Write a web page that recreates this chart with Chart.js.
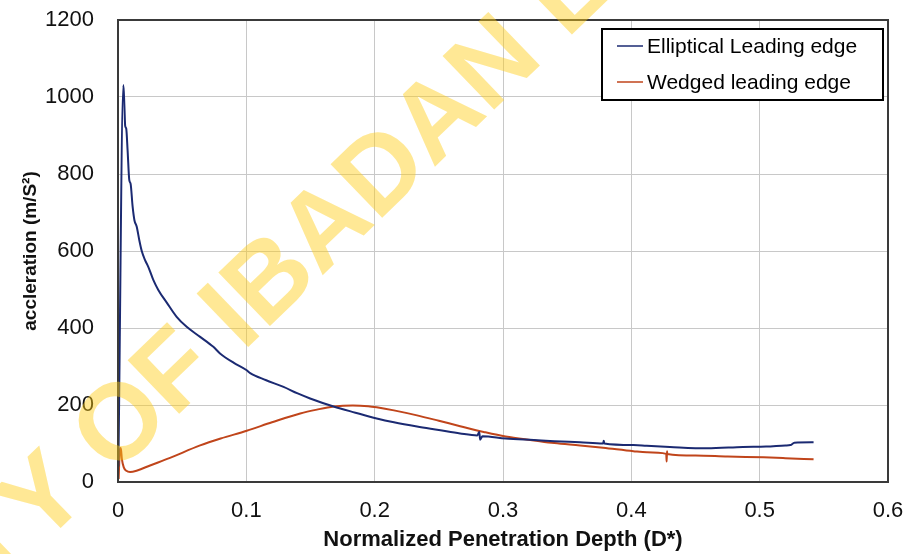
<!DOCTYPE html>
<html>
<head>
<meta charset="utf-8">
<title>Acceleration vs normalized penetration depth</title>
<script src="https://cdn.jsdelivr.net/npm/chart.js@4.4.1/dist/chart.umd.min.js"></script>
<style>
  html, body { margin: 0; padding: 0; background: #fff; }
  #wrap { width: 922px; height: 554px; }
</style>
</head>
<body>
<div id="wrap"><canvas id="accChart" width="922" height="554"></canvas></div>
<script>
/* Penetration test: acceleration of the two leading-edge shapes */
var xTickValues = [0, 0.1, 0.2, 0.3, 0.4, 0.5, 0.6];
var yTickValues = [0, 200, 400, 600, 800, 1000, 1200];

var seriesNames = ['Elliptical Leading edge', 'Wedged leading edge'];

var ellipticalX = [0.0003, 0.0042, 0.0050, 0.0056, 0.0064, 0.0075, 0.0088, 0.0098, 0.0114, 0.0128,
  0.0146, 0.0166, 0.0185, 0.0210, 0.0236, 0.0275, 0.0314, 0.038, 0.0457, 0.0535,
  0.064, 0.0743, 0.0795, 0.09, 0.1, 0.103, 0.115, 0.129, 0.14, 0.1497,
  0.168, 0.185, 0.2016, 0.215, 0.233, 0.25, 0.2666, 0.28, 0.2815, 0.2822,
  0.284, 0.302, 0.324, 0.34, 0.36, 0.378, 0.3785, 0.379, 0.4016, 0.412,
  0.43, 0.459, 0.487, 0.505, 0.52, 0.524, 0.527, 0.542];
var ellipticalY = [40, 1031, 975, 925, 918, 860, 784, 775, 715, 680,
  663, 628, 600, 577, 559, 525, 499, 466, 429, 403,
  377, 351, 334, 310, 291, 283, 265, 247, 230, 217,
  196, 180, 165, 155, 144, 135, 126, 121, 130, 110,
  119, 113, 109, 106, 103, 100, 107, 100, 96, 94,
  91, 87.5, 91, 92, 95, 96, 102, 103];

var wedgedX = [0.0005, 0.0015, 0.0022, 0.003, 0.0045, 0.0065, 0.0094, 0.015, 0.025, 0.04,
  0.064, 0.08, 0.1003, 0.12, 0.142, 0.155, 0.168, 0.183, 0.195, 0.2016,
  0.215, 0.233, 0.25, 0.2666, 0.285, 0.302, 0.324, 0.34, 0.36, 0.378,
  0.4016, 0.412, 0.4272, 0.4275, 0.4278, 0.428, 0.45, 0.475, 0.503, 0.52, 0.542];
var wedgedY = [8, 85, 88, 60, 38, 29, 26, 30, 43, 62,
  95, 113, 133, 155, 178, 188, 196, 199, 197, 194,
  186, 173, 159, 145, 130, 118, 108, 101, 95, 89,
  80, 77, 73, 53, 80, 73, 69, 66, 64, 62, 59];

var seriesColors = ['#1b2a72', '#c0451b'];

function toPoints(xs, ys) {
  return xs.map(function (x, i) { return { x: x, y: ys[i] }; });
}

var FONT = '"Liberation Sans", Arial, Helvetica, sans-serif';

// white box with line samples, top right of the plot
var legendPlugin = {
  id: 'boxLegend',
  afterDraw: function (chart) {
    var ctx = chart.ctx;
    var left = 602, top = 29, right = 883, bottom = 100;
    ctx.save();
    ctx.fillStyle = '#fff';
    ctx.fillRect(left, top, right - left, bottom - top);
    ctx.strokeStyle = '#000';
    ctx.lineWidth = 2;
    ctx.strokeRect(left, top, right - left, bottom - top);
    ctx.font = '21px ' + FONT;
    ctx.textBaseline = 'middle';
    ctx.fillStyle = '#000';
    chart.data.datasets.forEach(function (ds, i) {
      var y = 46 + i * 36;
      ctx.strokeStyle = ds.borderColor;
      ctx.lineWidth = 1.5;
      ctx.beginPath();
      ctx.moveTo(617, y);
      ctx.lineTo(643, y);
      ctx.stroke();
      ctx.fillText(ds.label, 647, y + 1);
    });
    ctx.restore();
  }
};

// frame round the plotting area
var framePlugin = {
  id: 'plotFrame',
  afterDatasetsDraw: function (chart) {
    var a = chart.chartArea, ctx = chart.ctx;
    ctx.save();
    ctx.strokeStyle = '#3a3a3a';
    ctx.lineWidth = 2;
    ctx.strokeRect(a.left, a.top, a.right - a.left, a.bottom - a.top);
    ctx.restore();
  }
};

// library stamp laid diagonally over the whole figure
var stampPlugin = {
  id: 'stamp',
  afterDraw: function (chart) {
    var ctx = chart.ctx;
    var text = 'UNIVERSITY OF IBADAN LIBRARY';
    var size = 108;
    var angle = -44 * Math.PI / 180;
    ctx.save();
    ctx.font = 'bold ' + size + 'px ' + FONT;
    var lead = ctx.measureText('UNIVERSITY ').width + ctx.measureText('O').width / 2;
    var cx = 117, cy = 420;
    ctx.translate(cx - lead * Math.cos(angle), cy - lead * Math.sin(angle));
    ctx.rotate(angle);
    ctx.textBaseline = 'alphabetic';
    ctx.fillStyle = 'rgba(255, 205, 20, 0.45)';
    ctx.fillText(text, 0, size * 0.716 / 2);
    ctx.restore();
  }
};

new Chart(document.getElementById('accChart'), {
  type: 'scatter',
  data: {
    datasets: [
      {
        label: seriesNames[0],
        data: toPoints(ellipticalX, ellipticalY),
        borderColor: seriesColors[0],
        backgroundColor: seriesColors[0],
        showLine: true,
        borderWidth: 2,
        pointRadius: 0,
        cubicInterpolationMode: 'monotone'
      },
      {
        label: seriesNames[1],
        data: toPoints(wedgedX, wedgedY),
        borderColor: seriesColors[1],
        backgroundColor: seriesColors[1],
        showLine: true,
        borderWidth: 2,
        pointRadius: 0,
        cubicInterpolationMode: 'monotone'
      }
    ]
  },
  options: {
    responsive: false,
    animation: false,
    layout: { padding: { left: 0, top: 20, right: 34, bottom: 0 } },
    plugins: {
      legend: { display: false },
      tooltip: { enabled: false }
    },
    scales: {
      x: {
        type: 'linear',
        min: 0,
        max: 0.6,
        afterBuildTicks: function (s) { s.ticks = xTickValues.map(function (v) { return { value: v }; }); },
        afterFit: function (s) { s.height = 72; },
        grid: { color: '#c8c8c8', lineWidth: 1, drawTicks: false },
        border: { display: false },
        ticks: {
          padding: 16,
          color: '#111',
          font: { family: FONT, size: 22 },
          callback: function (v) { return String(Math.round(v * 10) / 10); }
        },
        title: {
          display: true,
          text: 'Normalized Penetration Depth (D*)',
          color: '#111',
          font: { family: FONT, size: 22, weight: 'bold' },
          padding: { top: 0, bottom: 1 }
        }
      },
      y: {
        type: 'linear',
        min: 0,
        max: 1200,
        afterBuildTicks: function (s) { s.ticks = yTickValues.map(function (v) { return { value: v }; }); },
        // label padding would otherwise push the plot top down
        afterFit: function (s) { s.width = 118; s.paddingTop = 13; s.paddingBottom = 13; },
        grid: { color: '#c8c8c8', lineWidth: 1, drawTicks: false },
        border: { display: false },
        ticks: {
          padding: 24,
          color: '#111',
          font: { family: FONT, size: 22 },
          callback: function (v) { return String(v); }
        },
        title: {
          display: true,
          text: 'accleration (m/S\u00b2)',
          color: '#111',
          font: { family: FONT, size: 19, weight: 'bold' },
          padding: { top: 19, bottom: 0 }
        }
      }
    }
  },
  plugins: [framePlugin, legendPlugin, stampPlugin]
});
</script>
</body>
</html>
